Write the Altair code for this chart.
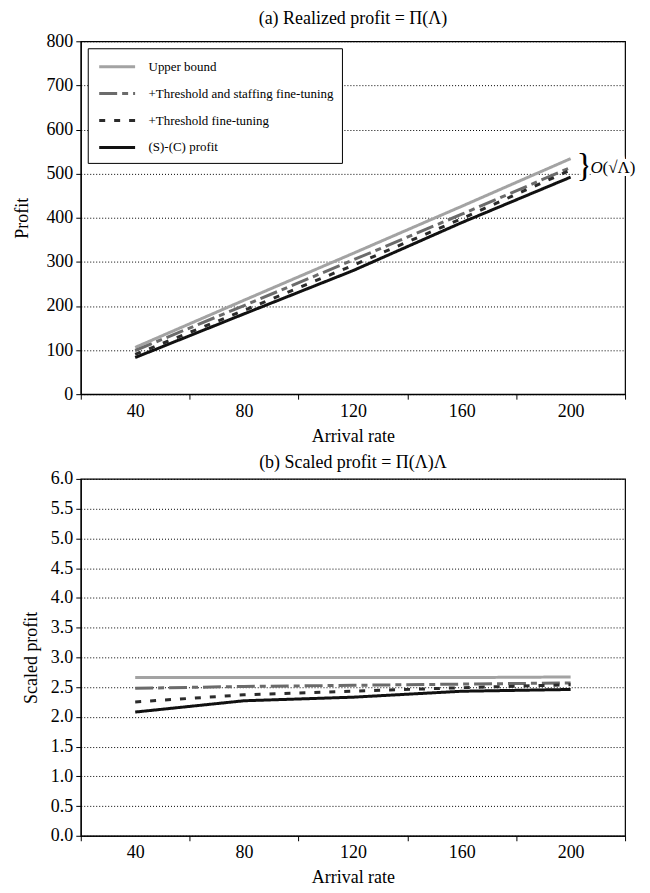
import altair as alt
import pandas as pd

arrival = [40, 80, 120, 160, 200]
series = ["Upper bound", "+Threshold and staffing fine-tuning",
          "+Threshold fine-tuning", "(S)-(C) profit"]

profit_upper = [106, 213, 319, 426, 534]
profit_ts = [99, 201, 304, 408, 514]
profit_t = [90, 190, 292, 398, 508]
profit_sc = [83, 182, 280, 389, 492]

scaled_upper = [2.66, 2.66, 2.66, 2.66, 2.67]
scaled_ts = [2.48, 2.51, 2.53, 2.55, 2.57]
scaled_t = [2.25, 2.37, 2.43, 2.49, 2.54]
scaled_sc = [2.08, 2.27, 2.33, 2.43, 2.46]

x_ticks = [20, 60, 100, 140, 180, 220]
profit_ticks = list(range(0, 801, 50))
scaled_ticks = [i * 0.5 for i in range(13)]

colors = ["#a3a3a3", "#6b6b6b", "#2b2b2b", "#111111"]
dashes = [[1, 0], [18, 5, 6, 5], [6, 9], [1, 0]]

FONT = "Liberation Serif"


def long_df(vals):
    rows = []
    for s, v in zip(series, vals):
        for a, y in zip(arrival, v):
            rows.append({"arrival": a, "value": y, "series": s})
    return pd.DataFrame(rows)


df_a = long_df([profit_upper, profit_ts, profit_t, profit_sc])
df_b = long_df([scaled_upper, scaled_ts, scaled_t, scaled_sc])
one = pd.DataFrame({"k": [0]})

W = 546


def x_enc():
    return alt.X(
        "arrival:Q",
        scale=alt.Scale(domain=[20, 220], nice=False, zero=False),
        axis=alt.Axis(
            values=x_ticks,
            labelExpr="datum.value < 220 ? '' + (datum.value + 20) : ''",
            labelOffset=alt.condition("datum.value >= 220", alt.value(0), alt.value(54.6)),
            labelFlush=False,
            labelOverlap=False,
            grid=False,
            title="Arrival rate",
            titlePadding=7,
        ),
    )


legend_a = alt.Legend(
    title=None,
    orient="none",
    legendX=7,
    legendY=7,
    padding=8,
    strokeColor="black",
    fillColor="white",
    symbolType="M-2,0H2",
    symbolSize=324,
    symbolStrokeWidth=3,
    symbolOffset=11,
    labelOffset=21,
    rowPadding=9,
    labelFont=FONT,
    labelFontSize=13,
    labelColor="black",
    labelLimit=0,
)

lines_a = alt.Chart(df_a).mark_line(strokeWidth=3).encode(
    x=x_enc(),
    y=alt.Y(
        "value:Q",
        scale=alt.Scale(domain=[0, 800], nice=False),
        axis=alt.Axis(values=profit_ticks, title="Profit", titlePadding=14, labelOverlap=False),
    ),
    color=alt.Color("series:N", scale=alt.Scale(domain=series, range=colors), legend=legend_a),
    strokeDash=alt.StrokeDash("series:N", scale=alt.Scale(domain=series, range=dashes), legend=legend_a),
)

ann_x = alt.datum(200)
ann_y = alt.datum(513)

brace_halo = alt.Chart(one).mark_text(
    text="}", font=FONT, fontSize=34, color="white", stroke="white", strokeWidth=6,
    align="left", baseline="middle", dx=6, dy=-2,
).encode(x=ann_x, y=ann_y)
brace = alt.Chart(one).mark_text(
    text="}", font=FONT, fontSize=34, color="black",
    align="left", baseline="middle", dx=6, dy=-2,
).encode(x=ann_x, y=ann_y)
o_halo = alt.Chart(one).mark_text(
    text="O(√Λ)", font=FONT, fontSize=17, color="white", stroke="white", strokeWidth=6,
    align="left", baseline="middle", dx=20,
).encode(x=ann_x, y=ann_y)
o_txt = alt.Chart(one).mark_text(
    text="O", font=FONT, fontSize=17, fontStyle="italic", color="black",
    align="left", baseline="middle", dx=20,
).encode(x=ann_x, y=ann_y)
rest_txt = alt.Chart(one).mark_text(
    text="(√Λ)", font=FONT, fontSize=17, color="black",
    align="left", baseline="middle", dx=32,
).encode(x=ann_x, y=ann_y)

top = alt.layer(lines_a, brace_halo, brace, o_halo, o_txt, rest_txt).properties(
    width=W, height=354,
    title=alt.TitleParams("(a) Realized profit = Π(Λ)", font=FONT, fontSize=18,
                          fontWeight="normal", color="black", offset=4),
)

lines_b = alt.Chart(df_b).mark_line(strokeWidth=3).encode(
    x=x_enc(),
    y=alt.Y(
        "value:Q",
        scale=alt.Scale(domain=[0, 6], nice=False),
        axis=alt.Axis(values=scaled_ticks, format=".1f", title="Scaled profit",
                      titlePadding=10, labelOverlap=False),
    ),
    color=alt.Color("series:N", scale=alt.Scale(domain=series, range=colors), legend=None),
    strokeDash=alt.StrokeDash("series:N", scale=alt.Scale(domain=series, range=dashes), legend=None),
)

bottom = lines_b.properties(
    width=W, height=358,
    title=alt.TitleParams("(b) Scaled profit = Π(Λ)Λ", font=FONT, fontSize=18,
                          fontWeight="normal", color="black", offset=-2),
)

chart = alt.vconcat(top, bottom, spacing=7).resolve_scale(
    color="independent", strokeDash="independent"
).properties(
    padding={"top": 0, "bottom": 0, "left": 5, "right": 5}
).configure_view(
    stroke="black", strokeWidth=1.2
).configure_axis(
    labelFont=FONT, labelFontSize=18, labelColor="black",
    titleFont=FONT, titleFontSize=18, titleFontWeight="normal", titleColor="black",
    tickColor="black", tickSize=5, domainColor="black", domainWidth=1.2,
    gridColor="black", gridDash=[1, 2], gridWidth=1, gridOpacity=1,
    labelPadding=3,
)

chart.save("out.html", embed_options={"renderer": "svg", "actions": False})
